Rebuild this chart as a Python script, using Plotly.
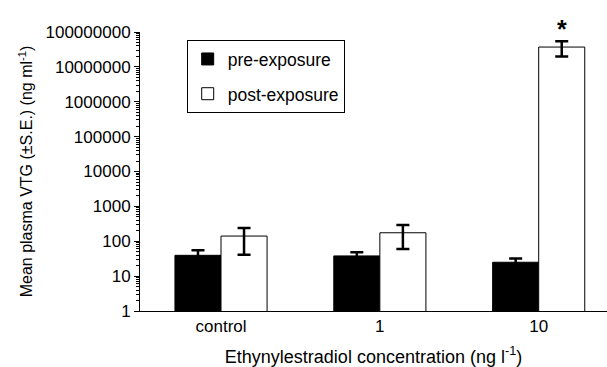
import plotly.graph_objects as go

categories = ["control", "1", "10"]
pre_values = [39.5, 38, 25]
pre_errors = [16, 10, 7]
post_values = [141, 175, 37000000]
post_errors = [100, 115, 17000000]
y_tickvals = [1, 10, 100, 1000, 10000, 100000, 1000000, 10000000, 100000000]
y_ticktext = [str(v) for v in y_tickvals]

FONT = "Arial, Liberation Sans, sans-serif"

fig = go.Figure()
fig.add_trace(go.Bar(
    x=categories, y=pre_values, name="pre-exposure", legendgroup="a",
    marker=dict(color="black", line=dict(color="black", width=1)),
    error_y=dict(type="data", array=pre_errors, color="black", thickness=2.5, width=6.5),
))
fig.add_trace(go.Bar(
    x=categories, y=post_values, name="post-exposure", legendgroup="b",
    marker=dict(color="white", line=dict(color="black", width=1)),
    error_y=dict(type="data", array=post_errors, color="black", thickness=2.5, width=6.5),
))

fig.add_annotation(x=2, xshift=23, y=1.012, yref="paper", text="<b>*</b>",
                   showarrow=False, font=dict(size=25, color="black", family=FONT),
                   xanchor="center", yanchor="middle")

fig.update_layout(
    width=607, height=367,
    margin=dict(l=140, r=0, t=32, b=56),
    paper_bgcolor="white", plot_bgcolor="white",
    barmode="group", bargap=0.42, bargroupgap=0,
    font=dict(family=FONT, size=17, color="black"),
    showlegend=True,
    legend=dict(x=0.1, y=0.971, xanchor="left", yanchor="top",
                bordercolor="black", borderwidth=1, bgcolor="white",
                traceorder="grouped", tracegroupgap=9,
                font=dict(size=17.5, family=FONT, color="black")),
    xaxis=dict(type="category", range=[-0.51, 2.43], showline=True, linecolor="black",
               linewidth=1, ticks="", showgrid=False, zeroline=False,
               tickfont=dict(size=17),
               title=dict(text="Ethynylestradiol concentration (ng l<sup>-1</sup>)",
                          font=dict(size=18), standoff=17)),
    yaxis=dict(type="log", range=[0, 8], showline=True, linecolor="black", linewidth=1,
               ticks="outside", ticklen=5, tickcolor="black", tickwidth=1,
               tickvals=y_tickvals, ticktext=y_ticktext, showgrid=False, zeroline=False,
               tickfont=dict(size=17),
               minor=dict(ticks="outside", ticklen=3, tickcolor="black", tickwidth=1,
                          dtick="D1", showgrid=False),
               title=dict(text="Mean plasma VTG (±S.E.) (ng ml<sup>-1</sup>)",
                          font=dict(size=16), standoff=8)),
)

fig.write_html("out.html")
